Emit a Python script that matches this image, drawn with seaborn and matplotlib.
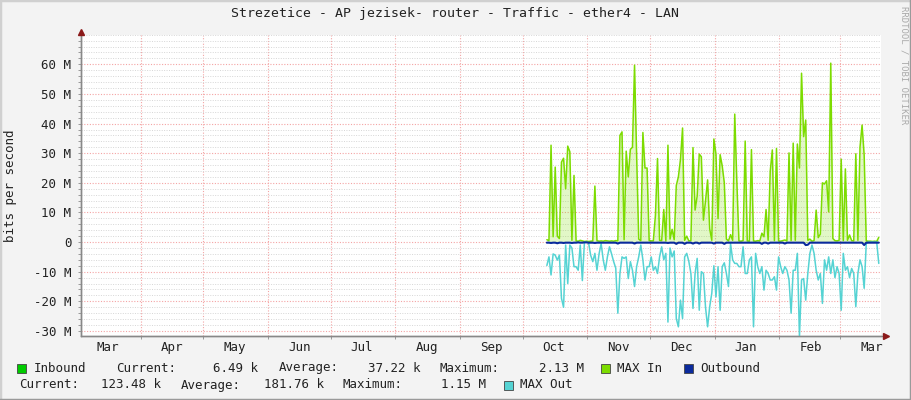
import pandas as pd
import seaborn as sns
import matplotlib.pyplot as plt
import matplotlib.dates as mdates
from matplotlib.ticker import MultipleLocator, FixedLocator, FixedFormatter
from matplotlib.patches import Rectangle
from matplotlib.lines import Line2D

# daily samples, Mbit/s
start = "2023-10-12 14:00"
max_in = [0.8, 0.5, 32.7, 1.8, 25.3, 2.0, 1.2, 27.0, 28.3, 18.0,
          32.4, 30.5, 0.6, 22.5, 0.4, 0.3, 0.6, 0.4, 0.2, 0.3,
          0.2, 0.3, 0.4, 18.9, 0.5, 0.3, 0.4, 0.3, 0.5, 0.4,
          0.3, 0.4, 0.3, 0.5, 0.4, 36.0, 37.2, 0.8, 30.7, 22.0,
          31.3, 32.0, 59.7, 29.3, 1.0, 0.5, 37.0, 25.0, 25.0, 0.5,
          0.4, 0.4, 9.0, 28.2, 0.6, 0.5, 11.0, 0.4, 32.7, 1.0,
          4.3, 0.8, 19.1, 22.0, 27.9, 38.5, 0.6, 2.0, 0.4, 0.5,
          31.9, 10.8, 15.5, 29.7, 28.8, 7.4, 13.9, 21.0, 4.5, 0.6,
          34.8, 29.7, 7.9, 29.5, 25.7, 20.0, 1.0, 0.4, 2.5, 0.6,
          43.2, 20.5, 0.4, 0.3, 0.5, 34.1, 0.4, 0.3, 31.2, 0.4,
          0.3, 0.5, 0.4, 3.0, 1.8, 11.0, 0.6, 23.9, 31.1, 0.5,
          31.6, 0.4, 0.3, 0.5, 0.7, 0.4, 30.1, 0.5, 33.4, 0.6,
          33.1, 25.0, 57.0, 35.6, 41.2, 0.6, 1.0, 0.3, 0.5, 10.8,
          1.5, 2.7, 20.0, 19.6, 20.7, 10.2, 60.4, 1.2, 0.5, 0.4,
          0.6, 28.0, 0.5, 24.7, 0.6, 2.4, 0.5, 0.4, 29.8, 0.6,
          32.0, 39.5, 29.3, 0.4, 0.3, 0.3, 0.2, 0.3, 0.2, 1.6]
max_out = [-7.9, -5.0, -11.1, -4.0, -4.4, -6.1, -4.4, -19.0, -22.0, -1.0,
           -14.0, -1.0, -2.0, -8.3, -8.3, -9.5, -1.0, -13.0, 0.0, 0.0,
           -0.3, -4.5, -6.6, -3.8, -9.5, -4.0, -0.5, -6.0, -9.5, -5.0,
           -1.6, -4.0, -6.6, -8.8, -24.0, -10.6, -5.0, -5.5, -5.0, -12.3,
           -6.6, -9.5, -15.0, -8.3, -5.0, -1.0, -6.0, -12.8, -8.3, -8.3,
           -5.0, -9.5, -8.3, -10.6, -5.0, -1.6, -6.0, -3.8, -27.0, -2.0,
           -5.0, -3.0, -25.8, -28.6, -19.6, -25.8, -5.0, -3.8, -6.5, -10.6,
           -22.4, -10.6, -5.5, -23.0, -10.0, -10.6, -22.0, -28.6, -21.8, -17.3,
           -8.0, -18.5, -8.3, -23.0, -8.3, -7.0, -10.6, -15.0, -0.5, -6.0,
           -7.2, -7.2, -8.3, -8.3, -1.6, -10.6, -10.6, -6.0, -5.0, -28.6,
           -3.8, -8.3, -10.6, -8.3, -16.2, -9.5, -10.6, -12.8, -12.8, -11.7,
           -16.2, -5.0, -8.3, -10.6, -8.3, -9.5, -12.8, -24.0, -9.5, -9.5,
           -3.8, -32.0, -12.8, -12.3, -19.6, -10.6, -3.8, -1.0, -3.8, -9.5,
           -12.8, -10.6, -20.7, -6.0, -9.5, -5.0, -10.6, -6.0, -12.0, -8.3,
           -10.6, -23.0, -3.8, -9.5, -8.3, -12.0, -8.9, -10.6, -21.8, -10.6,
           -6.0, -8.3, -15.6, -0.5, 0.0, 0.0, 0.0, 0.0, 0.0, -7.2]
outbound = [-0.2, -0.2, -0.3, -0.2, -0.2, -0.4, -0.2, -0.2, -0.3, -0.2,
            -0.2, -0.2, -0.3, -0.2, -0.2, -0.1, -0.2, -0.2, -0.1, -0.1,
            -0.2, -0.2, -0.2, -0.3, -0.2, -0.2, -0.2, -0.2, -0.2, -0.2,
            -0.2, -0.2, -0.2, -0.2, -0.5, -0.2, -0.2, -0.2, -0.2, -0.2,
            -0.2, -0.2, -0.5, -0.2, -0.2, -0.2, -0.2, -0.2, -0.2, -0.2,
            -0.2, -0.2, -0.2, -0.2, -0.2, -0.2, -0.2, -0.2, -0.3, -0.2,
            -0.2, -0.2, -0.6, -0.2, -0.2, -0.2, -0.6, -0.2, -0.2, -0.2,
            -0.5, -0.2, -0.2, -0.5, -0.2, -0.2, -0.2, -0.2, -0.2, -0.2,
            -0.5, -0.2, -0.2, -0.2, -0.2, -0.6, -0.2, -0.2, -0.2, -0.2,
            -0.2, -0.2, -0.2, -0.2, -0.2, -0.2, -0.2, -0.2, -0.2, -0.2,
            -0.2, -0.2, -0.2, -0.6, -0.2, -0.2, -0.5, -0.2, -0.2, -0.2,
            -0.2, -0.2, -0.2, -0.2, -0.5, -0.2, -0.2, -0.2, -0.2, -0.2,
            -0.2, -0.2, -0.2, -0.2, -1.0, -0.9, -0.2, -0.2, -0.2, -0.2,
            -0.2, -0.2, -0.2, -0.2, -0.2, -0.2, -0.2, -0.2, -0.2, -0.2,
            -0.2, -0.2, -0.2, -0.2, -0.2, -0.2, -0.2, -0.2, -0.2, -0.2,
            -0.2, -0.2, -1.0, -0.2, -0.2, -0.2, -0.2, -0.2, -0.2, -0.2]
inbound = [0.05, 0.05, 0.1, 0.05, 0.05, 0.05, 0.05, 0.05, 0.1, 0.05,
           0.05, 0.05, 0.05, 0.05, 0.02, 0.02, 0.02, 0.02, 0.02, 0.02,
           0.02, 0.02, 0.02, 0.05, 0.02, 0.02, 0.02, 0.02, 0.02, 0.02,
           0.02, 0.02, 0.02, 0.02, 0.02, 0.1, 0.1, 0.02, 0.05, 0.05,
           0.05, 0.05, 0.2, 0.05, 0.02, 0.02, 0.1, 0.05, 0.05, 0.02,
           0.02, 0.02, 0.02, 0.05, 0.02, 0.02, 0.02, 0.02, 0.05, 0.02,
           0.02, 0.02, 0.05, 0.05, 0.05, 0.1, 0.02, 0.02, 0.02, 0.02,
           0.05, 0.02, 0.02, 0.05, 0.05, 0.02, 0.02, 0.05, 0.02, 0.02,
           0.05, 0.05, 0.02, 0.05, 0.05, 0.05, 0.02, 0.02, 0.02, 0.02,
           0.1, 0.05, 0.02, 0.02, 0.02, 0.05, 0.02, 0.02, 0.05, 0.02,
           0.02, 0.02, 0.02, 0.02, 0.02, 0.02, 0.02, 0.05, 0.05, 0.02,
           0.05, 0.02, 0.02, 0.02, 0.02, 0.02, 0.05, 0.02, 0.05, 0.02,
           0.05, 0.05, 0.2, 0.05, 0.1, 0.02, 0.02, 0.02, 0.02, 0.02,
           0.02, 0.02, 0.05, 0.05, 0.05, 0.02, 0.2, 0.02, 0.02, 0.02,
           0.02, 0.05, 0.02, 0.05, 0.02, 0.02, 0.02, 0.02, 0.05, 0.02,
           0.05, 0.1, 0.05, 0.02, 0.02, 0.02, 0.02, 0.02, 0.02, 0.01]

y_ticks = [-30, -20, -10, 0, 10, 20, 30, 40, 50, 60]
y_labels = ["-30 M", "-20 M", "-10 M", "0", "10 M", "20 M", "30 M", "40 M", "50 M", "60 M"]

df = pd.DataFrame({
    "time": pd.date_range(start, periods=len(max_in), freq="D"),
    "max_in": max_in,
    "max_out": max_out,
    "outbound": outbound,
    "inbound": inbound,
})

sns.set_theme(style="white")
plt.rcParams["font.family"] = ["DejaVu Sans Mono", "DejaVu Sans"]

W, H = 911, 400
def fx(px):
    return px / W
def fy(py):
    return 1 - py / H

fig = plt.figure(figsize=(9.11, 4.0), dpi=100, facecolor="#F3F3F3")
ax = fig.add_axes([fx(81), fy(335.7), 800 / W, 301 / H])
ax.set_facecolor("white")

c_in, c_maxin, c_out, c_maxout = "#00CC00", "#7CDC00", "#0A2A9C", "#55D3D3"

ax.fill_between(df["time"], 0, df["inbound"], color=c_in, lw=0, zorder=3)
ax.fill_between(df["time"], 0, df["max_in"], color=c_maxin, alpha=0.22, lw=0, zorder=3)
sns.lineplot(data=df, x="time", y="max_in", color=c_maxin, lw=1.1, ax=ax, zorder=4)
sns.lineplot(data=df, x="time", y="max_out", color=c_maxout, lw=1.1, ax=ax, zorder=4)
sns.lineplot(data=df, x="time", y="outbound", color=c_out, lw=1.5, ax=ax, zorder=5)

ax.set_xlim(pd.Timestamp("2023-03-03 10:00"), pd.Timestamp("2024-03-20 15:30"))
ax.set_ylim(-31.6, 70)
ax.set_xlabel("")
ax.set_ylabel("")

ax.yaxis.set_major_locator(FixedLocator(y_ticks))
ax.yaxis.set_major_formatter(FixedFormatter(y_labels))
ax.yaxis.set_minor_locator(MultipleLocator(2))
ax.xaxis.set_major_locator(mdates.MonthLocator())
ax.xaxis.set_major_formatter(plt.NullFormatter())
ax.xaxis.set_minor_locator(mdates.MonthLocator(bymonthday=16))
ax.xaxis.set_minor_formatter(mdates.DateFormatter("%b"))

ax.grid(which="minor", axis="y", color="#D6D6D6", ls=(0, (1, 1.5)), lw=0.7, zorder=1)
ax.grid(which="major", axis="y", color="#F4A4A4", ls=(0, (1, 1.5)), lw=0.8, zorder=1)
ax.grid(which="major", axis="x", color="#F4A4A4", ls=(0, (1, 1.5)), lw=0.8, zorder=1)
ax.set_axisbelow(True)

ax.tick_params(axis="y", which="both", left=True, length=2, width=0.7, color="#999999",
               labelsize=9, pad=5, labelcolor="#222222")
ax.tick_params(axis="x", which="major", bottom=True, length=2, width=0.7, color="#999999")
ax.tick_params(axis="x", which="minor", bottom=False, length=0, labelsize=9, pad=4,
               labelcolor="#222222")

for s in ["top", "right"]:
    ax.spines[s].set_visible(False)
for s in ["left", "bottom"]:
    ax.spines[s].set_color("#888888")
    ax.spines[s].set_linewidth(1.0)

# axis arrows
fig.add_artist(Line2D([fx(81), fx(81)], [fy(335.7), fy(31)], color="#888888", lw=1.0))
fig.add_artist(Line2D([fx(81), fx(886)], [fy(335.7), fy(335.7)], color="#888888", lw=1.0))
fig.add_artist(Line2D([fx(81)], [fy(32)], marker="^", ms=4.5, color="#8B1A1A", lw=0))
fig.add_artist(Line2D([fx(886)], [fy(335.7)], marker=">", ms=4.5, color="#8B1A1A", lw=0))

fig.text(fx(455), fy(14), "Strezetice - AP jezisek- router - Traffic - ether4 - LAN",
         ha="center", va="center", fontsize=9.5, color="#222222")
fig.text(fx(11), fy(186), "bits per second", rotation=90, ha="center", va="center",
         fontsize=9, color="#222222")
fig.text(fx(904), fy(6), "RRDTOOL / TOBI OETIKER", rotation=270, ha="center", va="top",
         fontsize=6.5, color="#AAAAAA")

# legend
def square(x, y, color):
    fig.add_artist(Rectangle((fx(x), fy(y + 9)), 9 / W, 9 / H, facecolor=color,
                             edgecolor="#444444", lw=0.6))

legend_font = dict(fontsize=9, color="#222222", va="center", ha="left")
row1, row2 = 368, 385
square(17, row1 - 4.5, c_in)
fig.text(fx(34), fy(row1), "Inbound", **legend_font)
fig.text(fx(116.5), fy(row1), "Current:", **legend_font)
fig.text(fx(258), fy(row1), "6.49 k", **dict(legend_font, ha="right"))
fig.text(fx(279), fy(row1), "Average:", **legend_font)
fig.text(fx(421), fy(row1), "37.22 k", **dict(legend_font, ha="right"))
fig.text(fx(440), fy(row1), "Maximum:", **legend_font)
fig.text(fx(584), fy(row1), "2.13 M", **dict(legend_font, ha="right"))
square(601, row1 - 4.5, c_maxin)
fig.text(fx(617), fy(row1), "MAX In", **legend_font)
square(684, row1 - 4.5, c_out)
fig.text(fx(700), fy(row1), "Outbound", **legend_font)

fig.text(fx(19), fy(row2), "Current:", **legend_font)
fig.text(fx(161), fy(row2), "123.48 k", **dict(legend_font, ha="right"))
fig.text(fx(181), fy(row2), "Average:", **legend_font)
fig.text(fx(324), fy(row2), "181.76 k", **dict(legend_font, ha="right"))
fig.text(fx(342.5), fy(row2), "Maximum:", **legend_font)
fig.text(fx(486), fy(row2), "1.15 M", **dict(legend_font, ha="right"))
square(504.5, row2 - 4.5, c_maxout)
fig.text(fx(520.5), fy(row2), "MAX Out", **legend_font)

# image frame
fig.add_artist(Line2D([0, 0, 1], [0, 1, 1], color="#D0D0D0", lw=2.5))
fig.add_artist(Line2D([0, 1, 1], [0, 0, 1], color="#9A9A9A", lw=2.5))

fig.savefig("out.png", dpi=100, facecolor=fig.get_facecolor())
